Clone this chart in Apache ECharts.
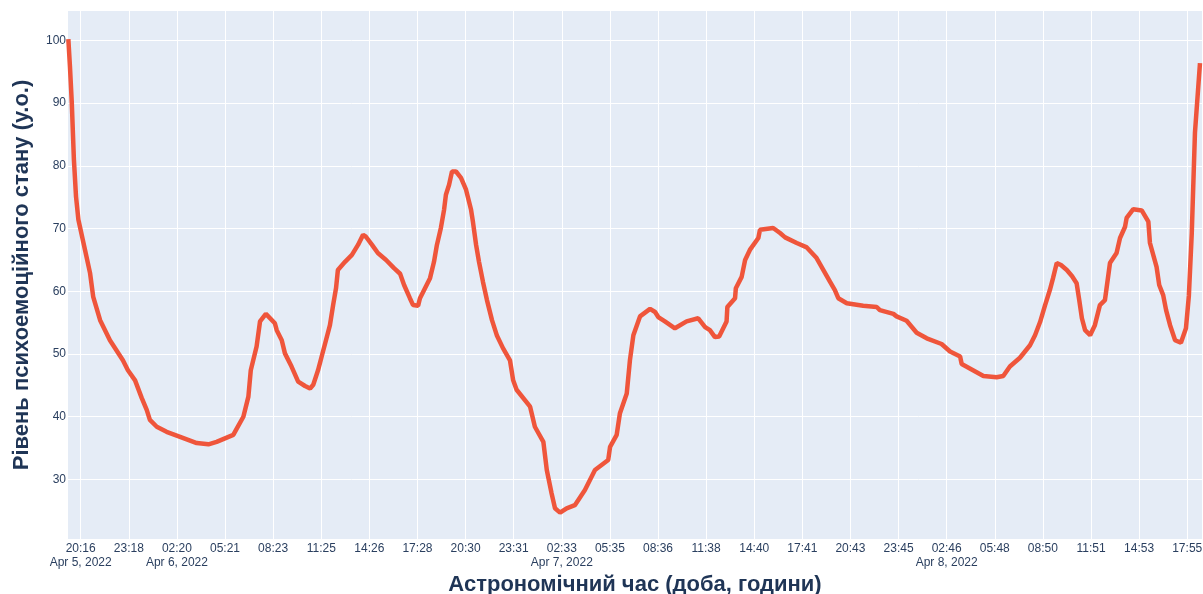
<!DOCTYPE html>
<html>
<head>
<meta charset="utf-8">
<title>Рівень психоемоційного стану</title>
<script src="https://cdn.jsdelivr.net/npm/echarts@6/dist/echarts.min.js"></script>
<style>
  html, body { margin: 0; padding: 0; background: #fff; }
  #chart { width: 1203px; height: 594px; }
</style>
</head>
<body>
<div id="chart"></div>
<script>
// час вимірювання (доба, години) і рівень стану (у.о.)
var times = [
  '2022-04-05 19:30', '2022-04-05 19:36', '2022-04-05 19:43', '2022-04-05 19:51', '2022-04-05 19:59',
  '2022-04-05 20:08', '2022-04-05 20:33', '2022-04-05 20:52', '2022-04-05 21:04', '2022-04-05 21:30',
  '2022-04-05 22:07', '2022-04-05 22:56', '2022-04-05 23:15', '2022-04-05 23:42',
  '2022-04-06 00:07', '2022-04-06 00:26', '2022-04-06 00:38', '2022-04-06 01:04', '2022-04-06 01:41',
  '2022-04-06 02:32', '2022-04-06 03:35', '2022-04-06 04:19', '2022-04-06 04:50', '2022-04-06 05:53',
  '2022-04-06 06:06', '2022-04-06 06:31', '2022-04-06 06:50', '2022-04-06 06:59', '2022-04-06 07:21',
  '2022-04-06 07:34', '2022-04-06 07:56', '2022-04-06 08:30', '2022-04-06 08:37', '2022-04-06 08:56',
  '2022-04-06 09:08', '2022-04-06 09:33', '2022-04-06 09:58', '2022-04-06 10:24', '2022-04-06 10:43',
  '2022-04-06 10:55', '2022-04-06 11:13', '2022-04-06 11:28', '2022-04-06 11:43', '2022-04-06 11:58',
  '2022-04-06 12:10', '2022-04-06 12:21', '2022-04-06 12:28', '2022-04-06 12:55', '2022-04-06 13:21',
  '2022-04-06 13:44', '2022-04-06 14:03', '2022-04-06 14:14', '2022-04-06 14:37', '2022-04-06 14:59',
  '2022-04-06 15:30', '2022-04-06 16:00', '2022-04-06 16:23', '2022-04-06 16:38', '2022-04-06 17:00',
  '2022-04-06 17:12', '2022-04-06 17:31', '2022-04-06 17:38', '2022-04-06 17:57', '2022-04-06 18:16',
  '2022-04-06 18:31', '2022-04-06 18:42', '2022-04-06 18:57', '2022-04-06 19:09', '2022-04-06 19:16',
  '2022-04-06 19:28', '2022-04-06 19:39', '2022-04-06 19:54', '2022-04-06 20:13', '2022-04-06 20:32',
  '2022-04-06 20:51', '2022-04-06 20:58', '2022-04-06 21:10', '2022-04-06 21:21', '2022-04-06 21:36',
  '2022-04-06 21:51', '2022-04-06 22:10', '2022-04-06 22:29', '2022-04-06 22:52', '2022-04-06 23:18',
  '2022-04-06 23:30', '2022-04-06 23:43',
  '2022-04-07 00:34', '2022-04-07 00:52', '2022-04-07 01:24', '2022-04-07 01:37', '2022-04-07 01:55',
  '2022-04-07 02:08', '2022-04-07 02:27', '2022-04-07 02:52', '2022-04-07 03:23', '2022-04-07 04:01',
  '2022-04-07 04:39', '2022-04-07 05:29', '2022-04-07 05:36', '2022-04-07 06:01', '2022-04-07 06:13',
  '2022-04-07 06:39', '2022-04-07 06:51', '2022-04-07 07:04', '2022-04-07 07:29', '2022-04-07 08:07',
  '2022-04-07 08:26', '2022-04-07 08:38', '2022-04-07 09:03', '2022-04-07 09:41', '2022-04-07 10:25',
  '2022-04-07 11:09', '2022-04-07 11:35', '2022-04-07 11:53', '2022-04-07 12:12', '2022-04-07 12:28',
  '2022-04-07 12:56', '2022-04-07 12:59', '2022-04-07 13:28', '2022-04-07 13:31', '2022-04-07 13:53',
  '2022-04-07 14:06', '2022-04-07 14:24', '2022-04-07 14:56', '2022-04-07 15:02', '2022-04-07 15:52',
  '2022-04-07 16:18', '2022-04-07 16:37', '2022-04-07 17:21', '2022-04-07 17:59', '2022-04-07 18:36',
  '2022-04-07 19:27', '2022-04-07 19:45', '2022-04-07 19:58', '2022-04-07 20:30', '2022-04-07 21:32',
  '2022-04-07 22:23', '2022-04-07 22:35', '2022-04-07 23:26', '2022-04-07 23:38',
  '2022-04-08 00:16', '2022-04-08 00:54', '2022-04-08 01:32', '2022-04-08 02:28', '2022-04-08 03:00',
  '2022-04-08 03:38', '2022-04-08 03:44', '2022-04-08 05:06', '2022-04-08 05:56', '2022-04-08 06:21',
  '2022-04-08 06:46', '2022-04-08 07:24', '2022-04-08 08:02', '2022-04-08 08:21', '2022-04-08 08:40',
  '2022-04-08 08:59', '2022-04-08 09:17', '2022-04-08 09:29', '2022-04-08 09:43', '2022-04-08 09:59',
  '2022-04-08 10:21', '2022-04-08 10:41', '2022-04-08 10:58', '2022-04-08 11:08', '2022-04-08 11:18',
  '2022-04-08 11:30', '2022-04-08 11:49', '2022-04-08 12:07', '2022-04-08 12:26', '2022-04-08 12:45',
  '2022-04-08 13:04', '2022-04-08 13:29', '2022-04-08 13:42', '2022-04-08 14:01', '2022-04-08 14:07',
  '2022-04-08 14:32', '2022-04-08 15:04', '2022-04-08 15:29', '2022-04-08 15:35', '2022-04-08 16:00',
  '2022-04-08 16:10', '2022-04-08 16:25', '2022-04-08 16:36', '2022-04-08 16:51', '2022-04-08 17:10',
  '2022-04-08 17:32', '2022-04-08 17:51', '2022-04-08 18:02', '2022-04-08 18:13', '2022-04-08 18:25',
  '2022-04-08 18:44'
];
var levels = [
  100.2, 95.9, 90.1, 81.0, 75.1,
  71.4, 66.6, 62.9, 59.1, 55.4,
  52.2, 49.0, 47.4, 45.8,
  43.0, 41.1, 39.5, 38.4, 37.6,
  36.8, 35.8, 35.6, 36.0, 37.1,
  38.1, 40.0, 43.2, 47.4, 51.2,
  55.2, 56.4, 54.9, 53.8, 52.2,
  50.1, 48.0, 45.6, 44.9, 44.5,
  45.1, 47.4, 49.8, 52.2, 54.6,
  57.8, 60.5, 63.4, 64.7, 65.8,
  67.4, 69.0, 68.7, 67.4, 66.1,
  65.0, 63.7, 62.8, 61.0, 58.9,
  57.8, 57.7, 58.9, 60.5, 62.1,
  64.7, 67.4, 70.1, 73.0, 75.4,
  77.0, 79.1, 79.1, 78.1, 76.2,
  73.0, 71.1, 67.4, 64.7, 61.5,
  58.6, 55.4, 52.9, 50.9, 49.0,
  45.8, 44.3,
  41.6, 38.4, 36.0, 31.5, 27.8,
  25.4, 24.7, 25.4, 25.9, 28.3,
  31.5, 33.1, 35.2, 37.1, 40.5,
  43.7, 49.0, 53.0, 56.0, 57.2,
  56.7, 55.9, 55.2, 54.1, 55.2,
  55.7, 54.3, 53.8, 52.7, 52.8,
  55.2, 57.5, 58.9, 60.5, 62.3,
  65.0, 66.6, 68.5, 69.8, 70.1,
  69.3, 68.6, 67.7, 67.0, 65.3,
  61.5, 60.2, 58.9, 58.1, 57.7,
  57.5, 57.0, 56.4, 56.0,
  55.3, 53.4, 52.5, 51.6, 50.4,
  49.6, 48.4, 46.5, 46.3, 46.5,
  48.0, 49.4, 51.4, 53.0, 55.1,
  57.8, 60.2, 62.1, 64.5, 64.2,
  63.4, 62.4, 61.3, 58.6, 55.7,
  53.8, 53.0, 54.6, 57.8, 58.6,
  64.5, 66.1, 68.5, 70.3, 71.7,
  73.1, 72.9, 71.1, 67.7, 63.9,
  61.0, 59.4, 57.0, 54.6, 52.2,
  51.8, 54.1, 59.3, 69.3, 85.3,
  96.4
];
var tickLabels = [
  '20:16', '23:18', '02:20', '05:21', '08:23', '11:25', '14:26', '17:28',
  '20:30', '23:31', '02:33', '05:35', '08:36', '11:38', '14:40', '17:41',
  '20:43', '23:45', '02:46', '05:48', '08:50', '11:51', '14:53', '17:55'
];
var tickDates = { 0: 'Apr 5, 2022', 2: 'Apr 6, 2022', 10: 'Apr 7, 2022', 18: 'Apr 8, 2022' };
var yTicks = [30, 40, 50, 60, 70, 80, 90, 100];

// хвилини від 2022-04-05 00:00
var base = Date.UTC(2022, 3, 5);
function toMin(s) {
    var p = s.split(/[- :]/);
    return (Date.UTC(+p[0], +p[1] - 1, +p[2], +p[3], +p[4]) - base) / 60000;
}
var tickStart = 1216.65;   // 20:16:39
var tickStep = 181.70;
var xTicks = tickLabels.map(function(l, i) { return tickStart + i * tickStep; });

var seriesData = times.map(function(t, i) { return [toMin(t), levels[i]]; });

var chart = echarts.init(document.getElementById('chart'));
var textColor = '#2a3f5f';
var option = {
    animation: false,
    backgroundColor: '#ffffff',
    grid: {
        left: 68, right: 1, top: 11, bottom: 55,
        outerBoundsMode: 'none',
        containLabel: false,
        show: true,
        backgroundColor: '#E5ECF6',
        borderWidth: 0
    },
    xAxis: {
        type: 'value',
        min: 1168.7,
        max: 5451.6,
        name: 'Астрономічний час (доба, години)',
        nameLocation: 'middle',
        nameGap: 33,
        nameTextStyle: {
            fontFamily: 'Liberation Sans, Arial, sans-serif',
            fontSize: 22,
            fontWeight: 'bold',
            color: '#1f3556'
        },
        axisLine: { show: false },
        axisTick: { show: false, customValues: xTicks },
        splitLine: { show: true, lineStyle: { color: '#ffffff', width: 1 } },
        axisLabel: {
            customValues: xTicks,
            margin: 3,
            fontFamily: 'Liberation Sans, Arial, sans-serif',
            fontSize: 12,
            lineHeight: 13.5,
            color: textColor,
            formatter: function(v) {
                var i = Math.round((v - tickStart) / tickStep);
                var s = tickLabels[i] || '';
                if (tickDates[i]) s += '\n' + tickDates[i];
                return s;
            }
        }
    },
    yAxis: {
        type: 'value',
        min: 20.5,
        max: 104.7,
        name: 'Рівень психоемоційного стану (у.о.)',
        nameLocation: 'middle',
        nameGap: 35,
        nameTextStyle: {
            fontFamily: 'Liberation Sans, Arial, sans-serif',
            fontSize: 22,
            fontWeight: 'bold',
            color: '#1f3556'
        },
        axisLine: { show: false },
        axisTick: { show: false, customValues: yTicks },
        splitLine: { show: true, lineStyle: { color: '#ffffff', width: 1 } },
        axisLabel: {
            customValues: yTicks,
            margin: 2,
            fontFamily: 'Liberation Sans, Arial, sans-serif',
            fontSize: 12,
            color: textColor
        }
    },
    series: [{
        type: 'line',
        data: seriesData,
        symbol: 'none',
        lineStyle: { color: '#EF553B', width: 4.5 }
    }]
};
chart.setOption(option);
</script>
</body>
</html>
